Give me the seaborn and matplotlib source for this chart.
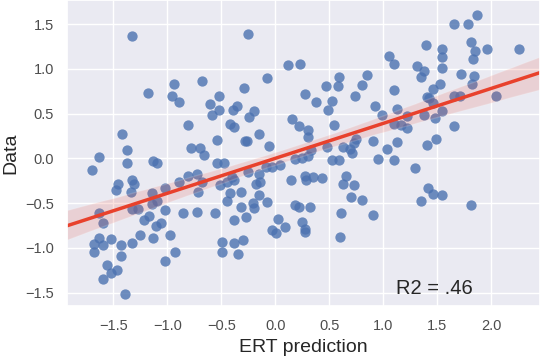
import numpy as np
import pandas as pd
import seaborn as sns
from matplotlib import pyplot as plt

sns.set_theme(style="darkgrid")
plt.rcParams['font.family'] = ['Liberation Sans', 'DejaVu Sans']

ert_pred = [
    -1.33, -1.18, -0.94, -0.96, -0.89, -0.68, -0.52, -0.61, -0.52, -0.59,
    -0.81, -1.42, -0.54, -1.37, -0.78, -0.70, -0.66, -1.63, -1.13, -1.10,
    -1.37, -1.70, -0.25, -0.08, -0.29, -0.36, -0.39, -0.20, -0.24, -0.42,
    -0.38, -0.15, -0.28, -0.26, -0.06, 0.12, 0.23, 0.27, 0.38, 0.47,
    0.52, 0.49, 0.59, 0.58, 0.74, 0.80, 0.85, 0.92, 0.15, 0.22,
    0.30, 0.30, 0.54, 0.48, 0.63, 0.69, 0.73, 0.71, 0.75, 0.90,
    0.18, 0.25, 0.30, 0.33, 0.52, 0.59, 0.95, 1.05, 1.10, 1.39,
    1.31, 1.38, 1.35, 1.54, 1.54, 1.54, 1.65, 1.78, 1.87, 1.81,
    1.85, 1.96, 1.83, 2.26, 1.72, 1.84, 1.82, 1.52, 1.46, 1.10,
    1.40, 1.42, 1.46, 1.65, 1.71, 2.04, 1.54, 1.38, 1.48, 1.13,
    0.99, 1.22, 1.10, 1.16, 1.22, 1.03, 1.13, 1.40, 1.49, 1.65,
    1.10, -1.46, -1.48, -1.33, -1.31, -1.34, -1.14, -1.14, -1.10, -1.02,
    -0.89, -0.81, -0.73, -0.72, -0.68, -1.63, -1.60, -1.33, -1.27, -1.22,
    -1.17, -1.11, -1.06, -1.02, -0.86, -0.73, -0.56, -1.63, -1.68, -1.60,
    -1.52, -1.43, -1.33, -1.25, -1.13, -0.98, -1.68, -1.43, -0.93, -1.02,
    -1.56, -1.47, -1.52, -1.60, -1.39, -0.54, -0.48, -0.51, -0.45, -0.40,
    -0.38, -0.25, -0.15, -0.18, -0.14, -0.09, -0.03, 0.04, 0.14, 0.27,
    0.28, 0.35, 0.43, 0.65, 0.63, 0.73, -0.42, -0.32, -0.45, -0.32,
    -0.15, -0.08, -0.21, -0.20, -0.27, -0.38, 0.18, 0.22, 0.32, 0.70,
    0.80, 0.61, 0.90, 0.02, 0.09, -0.03, 0.01, 0.25, 0.27, 0.27,
    0.60, -0.49, -0.38, -0.30, -0.49, -0.35, 1.29, 1.41, 1.46, 1.54,
    1.35, 1.81,
]
observed = [
    1.37, 0.73, 0.83, 0.70, 0.63, 0.86, 0.70, 0.61, 0.54, 0.48,
    0.37, 0.27, 0.21, 0.09, 0.12, 0.12, 0.04, 0.02, -0.03, -0.05,
    -0.05, -0.13, 1.39, 0.90, 0.79, 0.59, 0.54, 0.53, 0.46, 0.39,
    0.35, 0.27, 0.20, 0.20, 0.14, 1.04, 1.06, 0.72, 0.63, 0.81,
    0.64, 0.54, 0.91, 0.81, 0.70, 0.82, 0.93, 0.59, 0.44, 0.36,
    0.32, 0.24, 0.37, 0.13, 0.13, 0.11, 0.17, 0.06, 0.22, 0.20,
    -0.01, 0.01, 0.03, 0.09, -0.02, -0.02, -0.01, 1.14, 1.05, 1.27,
    1.03, 0.98, 0.91, 1.22, 1.13, 1.01, 1.50, 1.50, 1.60, 1.30,
    1.20, 1.22, 1.11, 1.22, 0.94, 0.92, 0.83, 0.83, 0.78, 0.77,
    0.69, 0.68, 0.62, 0.70, 0.70, 0.70, 0.53, 0.48, 0.45, 0.55,
    0.48, 0.47, 0.39, 0.37, 0.34, 0.11, 0.18, 0.15, 0.22, 0.36,
    -0.02, -0.28, -0.35, -0.24, -0.28, -0.37, -0.39, -0.51, -0.48, -0.33,
    -0.26, -0.20, -0.17, -0.38, -0.26, -0.61, -0.72, -0.56, -0.56, -0.69,
    -0.64, -0.76, -0.72, -0.58, -0.61, -0.60, -0.61, -0.89, -0.96, -0.97,
    -0.90, -0.97, -0.94, -0.85, -0.89, -0.85, -1.05, -1.09, -1.05, -1.14,
    -1.19, -1.25, -1.28, -1.35, -1.51, -0.05, -0.05, -0.30, -0.26, -0.21,
    -0.24, -0.15, -0.17, -0.28, -0.26, -0.09, -0.09, -0.07, -0.24, -0.20,
    -0.24, -0.21, -0.22, -0.20, -0.28, -0.30, -0.39, -0.38, -0.47, -0.54,
    -0.41, -0.49, -0.50, -0.55, -0.65, -0.69, -0.52, -0.54, -0.54, -0.43,
    -0.46, -0.61, -0.63, -0.68, -0.77, -0.80, -0.83, -0.71, -0.79, -0.82,
    -0.88, -0.93, -0.94, -0.91, -1.05, -1.07, -0.11, -0.33, -0.40, -0.41,
    -0.47, -0.52,
]

df = pd.DataFrame({'ERT prediction': ert_pred, 'Data': observed})

fig = plt.figure(figsize=(5.4, 3.56), dpi=100)
ax = fig.add_axes([0.124, 0.14, 0.876, 0.86])
ax.set_xlim(-1.93, 2.45)
ax.set_ylim(-1.65, 1.77)

sns.regplot(
    x='ERT prediction', y='Data', data=df, ax=ax, truncate=False, seed=0,
    scatter_kws={'s': 55, 'color': '#4c72b0', 'alpha': 0.8, 'linewidths': 0},
    line_kws={'color': '#e8412c', 'lw': 2.5}
)
ax.set_xlim(-1.93, 2.45)
ax.set_ylim(-1.65, 1.77)
ax.set_xticks([-1.5, -1.0, -0.5, 0.0, 0.5, 1.0, 1.5, 2.0])
ax.set_yticks([-1.5, -1.0, -0.5, 0.0, 0.5, 1.0, 1.5])
ax.tick_params(labelsize=10.5, colors='#4d4d4d')
ax.set_xlabel('ERT prediction', fontsize=14, color='#262626')
ax.set_ylabel('Data', fontsize=14, color='#262626')
ax.text(1.12, -1.51, 'R2 = .46', fontsize=14.5, color='#262626')

plt.savefig('out.png', dpi=100)
